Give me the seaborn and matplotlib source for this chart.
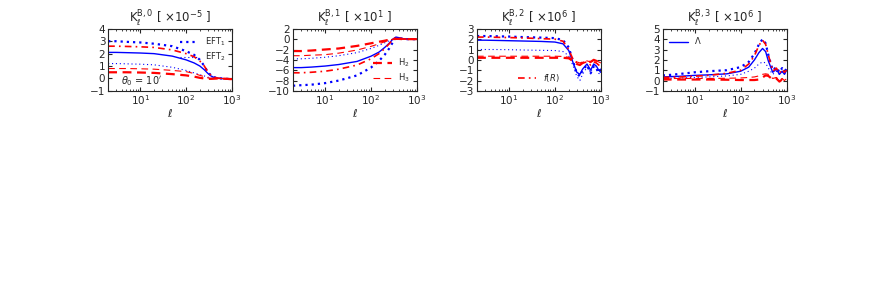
import matplotlib
matplotlib.use("Agg")
import matplotlib.pyplot as plt
import seaborn as sns
import pandas as pd

# multipoles
ell = [2, 3, 5, 10, 20, 50, 100, 150, 200, 250, 300, 350, 400, 500, 600, 700, 800, 900, 1000]

# K^{B,0} [x1e-5]
k0_eft1 = [3.0, 3.0, 2.95, 2.9, 2.8, 2.6, 2.2, 1.9, 1.5, 1.0, 0.5, 0.25, 0.1, 0.03, 0.0, -0.02, -0.03, -0.05, -0.05]
k0_eft2 = [1.2, 1.2, 1.18, 1.15, 1.1, 0.9, 0.65, 0.45, 0.3, 0.2, 0.1, 0.05, 0.02, 0.0, 0.0, -0.02, -0.03, -0.05, -0.05]
k0_lcdm = [2.1, 2.1, 2.08, 2.05, 2.0, 1.8, 1.5, 1.25, 1.0, 0.7, 0.4, 0.2, 0.1, 0.03, 0.0, -0.02, -0.03, -0.05, -0.05]
k0_h2 = [0.5, 0.5, 0.5, 0.48, 0.45, 0.35, 0.25, 0.15, 0.05, 0.0, -0.03, -0.03, -0.02, 0.0, 0.0, -0.02, -0.03, -0.05, -0.05]
k0_h3 = [0.8, 0.8, 0.8, 0.78, 0.75, 0.65, 0.55, 0.4, 0.25, 0.15, 0.05, 0.0, 0.0, 0.0, 0.0, -0.02, -0.03, -0.05, -0.05]
k0_fr = [2.6, 2.6, 2.58, 2.55, 2.5, 2.3, 2.0, 1.75, 1.4, 1.0, 0.5, 0.25, 0.1, 0.02, 0.0, -0.02, -0.03, -0.05, -0.05]

# K^{B,1} [x1e1]
k1_eft1 = [-9.0, -8.9, -8.8, -8.5, -8.0, -7.0, -5.5, -4.2, -3.0, -1.8, -0.6, 0.2, 0.2, 0.05, 0.0, 0.0, 0.0, 0.0, 0.0]
k1_eft2 = [-3.8, -3.8, -3.7, -3.5, -3.2, -2.6, -1.8, -1.2, -0.7, -0.3, 0.0, 0.15, 0.15, 0.05, 0.0, 0.0, 0.0, 0.0, 0.0]
k1_lcdm = [-5.5, -5.5, -5.4, -5.2, -4.9, -4.3, -3.3, -2.5, -1.6, -0.8, 0.0, 0.4, 0.3, 0.1, 0.05, 0.0, 0.0, 0.0, 0.0]
k1_h2 = [-2.3, -2.3, -2.2, -2.0, -1.8, -1.3, -0.8, -0.5, -0.3, -0.1, 0.0, 0.05, 0.05, 0.0, 0.0, 0.0, 0.0, 0.0, 0.0]
k1_h3 = [-3.2, -3.2, -3.1, -3.0, -2.7, -2.1, -1.4, -0.9, -0.5, -0.2, 0.0, 0.05, 0.05, 0.0, 0.0, 0.0, 0.0, 0.0, 0.0]
k1_fr = [-6.5, -6.5, -6.4, -6.2, -5.8, -5.0, -3.8, -2.8, -1.8, -0.9, -0.1, 0.3, 0.25, 0.05, 0.0, 0.0, 0.0, 0.0, 0.0]

# K^{B,2} [x1e6]
k2_eft1 = [2.3, 2.3, 2.28, 2.25, 2.2, 2.15, 2.1, 1.9, 1.2, -0.2, -1.3, -1.6, -1.0, -0.5, -1.3, -0.6, -0.8, -1.3, -1.1]
k2_eft2 = [1.0, 1.0, 1.0, 0.98, 0.95, 0.92, 0.9, 0.8, 0.4, -0.6, -1.6, -2.0, -1.4, -0.7, -1.2, -0.5, -0.9, -1.3, -1.4]
k2_lcdm = [1.9, 1.9, 1.88, 1.85, 1.82, 1.78, 1.72, 1.55, 0.9, -0.3, -1.2, -1.4, -0.9, -0.4, -1.0, -0.4, -0.6, -1.0, -0.9]
k2_h2 = [0.2, 0.2, 0.2, 0.2, 0.2, 0.2, 0.2, 0.2, 0.15, -0.1, -0.4, -0.5, -0.3, -0.1, -0.2, 0.0, -0.1, -0.3, -0.2]
k2_h3 = [0.35, 0.35, 0.35, 0.35, 0.35, 0.35, 0.35, 0.33, 0.25, 0.0, -0.2, -0.3, -0.2, -0.1, -0.2, -0.1, -0.1, -0.2, -0.3]
k2_fr = [2.2, 2.2, 2.18, 2.15, 2.12, 2.05, 2.0, 1.8, 1.0, 0.0, -0.3, -0.5, -0.3, -0.2, -0.5, -0.2, -0.3, -0.5, -0.6]

# K^{B,3} [x1e6]
k3_eft1 = [0.5, 0.55, 0.65, 0.8, 0.9, 1.0, 1.3, 1.8, 2.6, 3.5, 4.0, 3.6, 2.5, 1.0, 1.3, 0.8, 1.2, 0.9, 1.1]
k3_eft2 = [0.2, 0.22, 0.25, 0.3, 0.35, 0.45, 0.6, 0.9, 1.2, 1.6, 1.8, 1.7, 1.2, 0.6, 0.9, 0.6, 0.8, 0.6, 0.9]
k3_lcdm = [0.35, 0.38, 0.42, 0.5, 0.55, 0.65, 0.9, 1.3, 2.0, 2.7, 3.1, 2.8, 1.9, 0.8, 1.1, 0.6, 0.9, 0.6, 1.0]
k3_h2 = [0.1, 0.1, 0.1, 0.1, 0.1, 0.08, 0.05, 0.05, 0.05, 0.1, 0.3, 0.5, 0.45, 0.1, 0.2, -0.1, 0.1, -0.1, 0.1]
k3_h3 = [0.2, 0.2, 0.2, 0.2, 0.2, 0.22, 0.25, 0.3, 0.35, 0.45, 0.6, 0.65, 0.6, 0.2, 0.3, 0.0, 0.2, 0.0, 0.2]
k3_fr = [0.3, 0.32, 0.35, 0.42, 0.5, 0.7, 1.0, 1.6, 2.4, 3.4, 3.9, 3.5, 2.5, 0.9, 1.2, 0.7, 1.1, 0.8, 1.0]

titles = [r"$\mathrm{K}_\ell^{\mathrm{B},0}$ [ $\times 10^{-5}$ ]",
          r"$\mathrm{K}_\ell^{\mathrm{B},1}$ [ $\times 10^{1}$ ]",
          r"$\mathrm{K}_\ell^{\mathrm{B},2}$ [ $\times 10^{6}$ ]",
          r"$\mathrm{K}_\ell^{\mathrm{B},3}$ [ $\times 10^{6}$ ]"]
ylims = [(-1, 4), (-10, 2), (-3, 3), (-1, 5)]
yticks = [range(-1, 5), range(-10, 3, 2), range(-3, 4), range(-1, 6)]

panels = [
    {"EFT1": k0_eft1, "EFT2": k0_eft2, "LCDM": k0_lcdm, "H2": k0_h2, "H3": k0_h3, "fR": k0_fr},
    {"EFT1": k1_eft1, "EFT2": k1_eft2, "LCDM": k1_lcdm, "H2": k1_h2, "H3": k1_h3, "fR": k1_fr},
    {"EFT1": k2_eft1, "EFT2": k2_eft2, "LCDM": k2_lcdm, "H2": k2_h2, "H3": k2_h3, "fR": k2_fr},
    {"EFT1": k3_eft1, "EFT2": k3_eft2, "LCDM": k3_lcdm, "H2": k3_h2, "H3": k3_h3, "fR": k3_fr},
]

# model -> (label, color, linestyle, linewidth)
styles = {
    "EFT1": (r"EFT$_1$", "#0000ff", (0, (1, 1.8)), 1.6),
    "EFT2": (r"EFT$_2$", "#0000ff", (0, (1, 2.5)), 0.8),
    "LCDM": (r"$\Lambda$", "#0000ff", "-", 1.0),
    "H2": (r"H$_2$", "#ff0000", (0, (4, 2.5)), 1.6),
    "H3": (r"H$_3$", "#ff0000", (0, (6, 4)), 0.8),
    "fR": (r"$f(R)$", "#ff0000", (0, (4, 2.5, 1, 2.5)), 1.2),
}
# which legend entries go in which panel
legend_keys = [["EFT1", "EFT2"], ["H2", "H3"], ["fR"], ["LCDM"]]
legend_locs = ["upper right", "lower right", "lower center", "upper left"]

sns.set_style("ticks")
plt.rcParams["font.size"] = 8
plt.rcParams["mathtext.fontset"] = "dejavusans"

fig = plt.figure(figsize=(8.72, 3.0), dpi=100)
lefts = [0.124, 0.336, 0.547, 0.760]

for i in range(4):
    ax = fig.add_axes([lefts[i], 0.697, 0.142, 0.207])
    df = pd.DataFrame(panels[i])
    df["ell"] = ell
    handles = {}
    for key in ["EFT1", "EFT2", "LCDM", "H2", "H3", "fR"]:
        lab, col, ls, lw = styles[key]
        sns.lineplot(data=df, x="ell", y=key, ax=ax, color=col, linestyle=ls, linewidth=lw)
        handles[key] = ax.lines[-1]
    ax.set_xscale("log")
    ax.set_xlim(2, 1000)
    ax.set_ylim(*ylims[i])
    ax.set_yticks(list(yticks[i]))
    ax.set_xticks([10, 100, 1000])
    ax.set_xlabel(r"$\ell$", fontsize=8, labelpad=0)
    ax.set_ylabel("")
    ax.set_title(titles[i], fontsize=8.5, pad=2)
    ax.tick_params(axis="both", which="both", direction="in", top=True, right=True, labelsize=7.5, pad=2)
    ax.tick_params(which="major", length=3)
    ax.tick_params(which="minor", length=1.5)
    keys = legend_keys[i]
    ax.legend([handles[k] for k in keys], [styles[k][0] for k in keys], loc=legend_locs[i],
              frameon=False, fontsize=6, handlelength=2.2, borderpad=0.3, labelspacing=0.3)
    if i == 0:
        ax.text(0.1, 0.1, r"$\theta_0$ = 10$'$", transform=ax.transAxes, fontsize=7)

fig.savefig("out.png", dpi=100)
